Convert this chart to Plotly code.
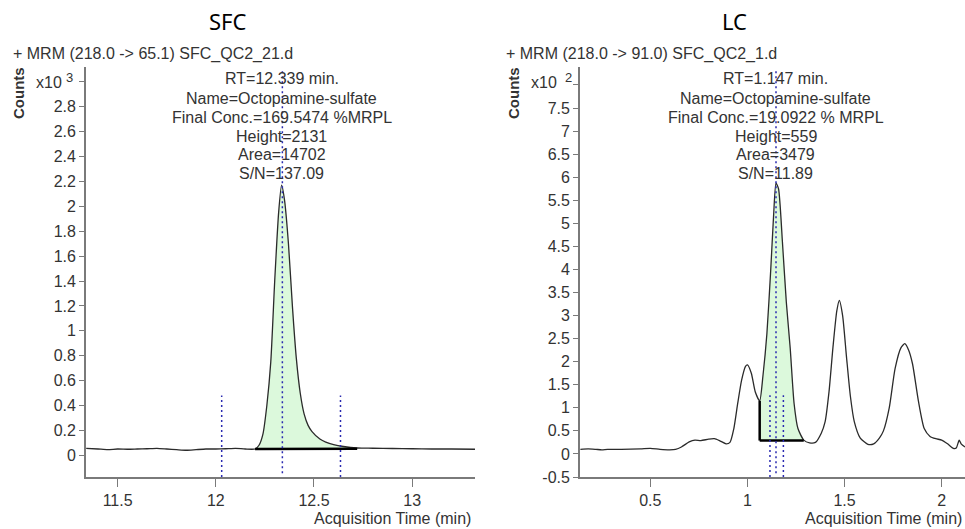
import plotly.graph_objects as go

# ---------------- data (SFC, counts x10^3) ----------------
sfc_time = [11.34, 11.40, 11.45, 11.50, 11.55, 11.60, 11.65, 11.70, 11.75, 11.80,
            11.85, 11.90, 11.95, 12.00, 12.05, 12.10, 12.15, 12.20, 12.22, 12.24,
            12.26, 12.28, 12.30, 12.32, 12.335, 12.35, 12.37, 12.39, 12.41, 12.43,
            12.45, 12.47, 12.49, 12.53, 12.56, 12.60, 12.65, 12.72, 12.75, 12.80,
            12.90, 13.00, 13.10, 13.20, 13.32]
sfc_counts = [0.055, 0.050, 0.045, 0.050, 0.048, 0.050, 0.052, 0.055, 0.050, 0.045,
              0.040, 0.045, 0.050, 0.050, 0.052, 0.055, 0.050, 0.050, 0.080, 0.170,
              0.400, 0.750, 1.400, 1.950, 2.170, 2.050, 1.700, 1.200, 0.780, 0.500,
              0.330, 0.240, 0.190, 0.130, 0.105, 0.085, 0.070, 0.058, 0.057, 0.056,
              0.054, 0.052, 0.050, 0.050, 0.048]
sfc_int_start, sfc_int_end = 12.20, 12.72
sfc_base = [0.050, 0.052]
sfc_marks = [12.03, 12.339, 12.635]
sfc_yticks = [0, 0.2, 0.4, 0.6, 0.8, 1, 1.2, 1.4, 1.6, 1.8, 2, 2.2, 2.4, 2.6, 2.8, 3]
sfc_yticklabels = ["0", "0.2", "0.4", "0.6", "0.8", "1", "1.2", "1.4", "1.6", "1.8",
                   "2", "2.2", "2.4", "2.6", "2.8", ""]
sfc_xticks = [11.5, 12, 12.5, 13]
sfc_xticklabels = ["11.5", "12", "12.5", "13"]
sfc_info = ["RT=12.339 min.", "Name=Octopamine-sulfate", "Final Conc.=169.5474 %MRPL",
            "Height=2131", "Area=14702", "S/N=137.09"]

# ---------------- data (LC, counts x10^2) ----------------
lc_time = [0.14, 0.18, 0.22, 0.25, 0.28, 0.35, 0.45, 0.50, 0.55, 0.60,
           0.63, 0.66, 0.70, 0.73, 0.76, 0.80, 0.83, 0.86, 0.89, 0.91,
           0.93, 0.95, 0.97, 0.99, 1.00, 1.02, 1.04, 1.063, 1.08, 1.10,
           1.12, 1.135, 1.147, 1.16, 1.18, 1.20, 1.22, 1.24, 1.26, 1.29,
           1.32, 1.35, 1.38, 1.40, 1.42, 1.44, 1.46, 1.473, 1.49, 1.51,
           1.53, 1.55, 1.58, 1.62, 1.65, 1.68, 1.70, 1.73, 1.76, 1.79,
           1.81, 1.83, 1.85, 1.88, 1.91, 1.94, 1.97, 2.00, 2.03, 2.06,
           2.075, 2.09, 2.10, 2.12]
lc_counts = [0.10, 0.11, 0.10, 0.09, 0.10, 0.10, 0.11, 0.12, 0.10, 0.09,
             0.10, 0.15, 0.26, 0.30, 0.29, 0.32, 0.33, 0.28, 0.22, 0.25,
             0.55, 1.10, 1.60, 1.90, 1.93, 1.75, 1.35, 1.15, 1.70, 2.60,
             4.00, 5.20, 5.87, 5.75, 4.60, 3.30, 2.30, 1.10, 0.55, 0.30,
             0.24, 0.25, 0.45, 0.70, 1.35, 2.30, 3.10, 3.33, 3.00, 2.10,
             1.25, 0.70, 0.35, 0.21, 0.22, 0.35, 0.50, 1.00, 1.85, 2.30,
             2.39, 2.25, 1.95, 1.15, 0.55, 0.38, 0.33, 0.30, 0.22, 0.12,
             0.13, 0.30, 0.22, 0.15]
lc_int_start, lc_int_end = 1.063, 1.29
lc_base = [0.29, 0.29]
lc_marks = [1.116, 1.147, 1.185]
lc_yticks = [-0.5, 0, 0.5, 1, 1.5, 2, 2.5, 3, 3.5, 4, 4.5, 5, 5.5, 6, 6.5, 7, 7.5, 8]
lc_yticklabels = ["-0.5", "0", "0.5", "1", "1.5", "2", "2.5", "3", "3.5", "4", "4.5",
                  "5", "5.5", "6", "6.5", "7", "7.5", ""]
lc_xticks = [0.5, 1, 1.5, 2]
lc_xticklabels = ["0.5", "1", "1.5", "2"]
lc_info = ["RT=1.147 min.", "Name=Octopamine-sulfate", "Final Conc.=19.0922 % MRPL",
           "Height=559", "Area=3479", "S/N=11.89"]

W, H = 965, 529          # reference picture size (layout coordinates below)
FIG_H = 538              # rendered figure height (photo is squeezed to 529)
FONT = "Liberation Sans, Arial, sans-serif"
TXT = "#333333"
AXC = "#7a7a7a"
GREEN = "rgba(214,248,214,0.85)"
BLUE = "#2a2ab0"


def px(x):
    return x / W


def py(y):
    return 1 - y / H


fig = go.Figure()


def add_panel(t, c, s, e, base, xa, ya):
    seg_x = [tt for tt in t if s <= tt <= e]
    seg_y = [cc for tt, cc in zip(t, c) if s <= tt <= e]
    poly_x = seg_x + [e, s]
    poly_y = seg_y + [base[1], base[0]]
    fig.add_trace(go.Scatter(x=poly_x, y=poly_y, fill="toself", fillcolor=GREEN,
                             mode="lines", line=dict(width=0),
                             xaxis=xa, yaxis=ya, hoverinfo="skip", showlegend=False))
    fig.add_trace(go.Scatter(x=t, y=c, mode="lines",
                             line=dict(color="#2b2b2b", width=1.3, shape="spline", smoothing=0.6),
                             xaxis=xa, yaxis=ya, showlegend=False))
    fig.add_trace(go.Scatter(x=[s, e], y=base, mode="lines",
                             line=dict(color="black", width=2.5),
                             xaxis=xa, yaxis=ya, showlegend=False))


add_panel(sfc_time, sfc_counts, sfc_int_start, sfc_int_end, sfc_base, "x", "y")
add_panel(lc_time, lc_counts, lc_int_start, lc_int_end, lc_base, "x2", "y2")

# vertical drop line at LC integration start
fig.add_trace(go.Scatter(x=[lc_int_start, lc_int_start],
                         y=[lc_base[0], lc_counts[lc_time.index(lc_int_start)]],
                         mode="lines", line=dict(color="black", width=2.5),
                         xaxis="x2", yaxis="y2", showlegend=False))

shapes = []
for i, m in enumerate(sfc_marks):
    top = 3.10 if i == 1 else 0.48
    bot = -0.145 if i == 1 else -0.175
    shapes.append(dict(type="line", xref="x", yref="y", x0=m, x1=m, y0=bot, y1=top,
                       line=dict(color=BLUE, width=1.5, dash="2px,3px")))
for i, m in enumerate(lc_marks):
    top = 8.32 if i == 1 else 1.27
    bot = -0.42 if i == 1 else -0.5
    shapes.append(dict(type="line", xref="x2", yref="y2", x0=m, x1=m, y0=bot, y1=top,
                       line=dict(color=BLUE, width=1.5, dash="2px,3px")))

ydom = [py(477), py(67)]
axis_common = dict(showgrid=False, zeroline=False, showline=True, linecolor=AXC,
                   linewidth=1.8, ticks="outside", tickcolor=AXC, tickwidth=1.2,
                   tickfont=dict(family=FONT, size=16, color=TXT))

fig.update_layout(
    width=W, height=FIG_H, autosize=False,
    margin=dict(l=0, r=0, t=0, b=0),
    plot_bgcolor="white", paper_bgcolor="white",
    xaxis=dict(domain=[px(86), px(475)], range=[11.339, 13.32], anchor="y",
               tickvals=sfc_xticks, ticktext=sfc_xticklabels, ticklen=8, **axis_common),
    yaxis=dict(domain=ydom, range=[-0.175, 3.12], anchor="x",
               tickvals=sfc_yticks, ticktext=sfc_yticklabels, ticklen=5, **axis_common),
    xaxis2=dict(domain=[px(580), 1.0], range=[0.138, 2.12], anchor="y2",
                tickvals=lc_xticks, ticktext=lc_xticklabels, ticklen=8, **axis_common),
    yaxis2=dict(domain=ydom, range=[-0.5, 8.39], anchor="x2",
                tickvals=lc_yticks, ticktext=lc_yticklabels, ticklen=5, **axis_common),
    shapes=shapes,
)

ann = []


def text(x, y, s, size=16, anchor="center", color=TXT, family=FONT, angle=0):
    ann.append(dict(x=px(x), y=py(y), xref="paper", yref="paper", text=s,
                    showarrow=False, xanchor=anchor, yanchor="middle",
                    textangle=angle, font=dict(family=family, size=size, color=color)))


text(227.5, 21, "SFC", size=22, color="black", family="Noto Sans, sans-serif")
text(734.5, 21, "LC", size=22, color="black", family="Noto Sans, sans-serif")
text(11, 54, "+ MRM (218.0 -> 65.1) SFC_QC2_21.d", anchor="left")
text(504, 54, "+ MRM (218.0 -> 91.0) SFC_QC2_1.d", anchor="left")
text(18, 93, "<b>Counts</b>", size=15, angle=-90)
text(513, 93, "<b>Counts</b>", size=15, angle=-90)
text(49, 82, "x10", size=16)
text(69, 77, "3", size=13)
text(543.5, 82, "x10", size=16)
text(568, 77, "2", size=13)
ys = [78.5, 98, 117, 136, 154.5, 173.5]
for s_, y_ in zip(sfc_info, ys):
    text(281.5, y_, s_)
for s_, y_ in zip(lc_info, ys):
    text(775.5, y_, s_)
text(473, 518.5, "Acquisition Time (min)", anchor="right")
text(964, 518.5, "Acquisition Time (min)", anchor="right")

fig.update_layout(annotations=ann)
fig.write_html("out.html", config={"displayModeBar": False},
               post_script="document.body.style.margin='0';document.body.style.overflow='hidden';")
